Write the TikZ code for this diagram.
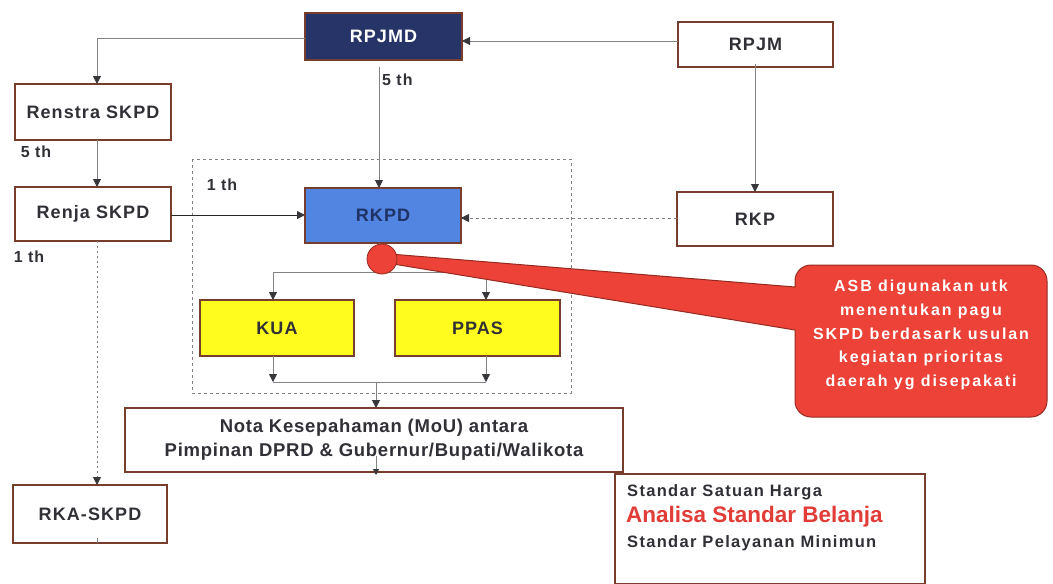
\documentclass[tikz,border=0pt]{standalone}
\usepackage{fontspec}
\setmainfont{Liberation Sans}
\newfontfamily\boxfont[LetterSpace=6]{Liberation Sans}
\newfontfamily\notafont[LetterSpace=4]{Liberation Sans}
\newfontfamily\stdfont[LetterSpace=8]{Liberation Sans}
\newfontfamily\callfont[LetterSpace=12]{Liberation Sans}
\usetikzlibrary{arrows.meta}
\definecolor{boxborder}{RGB}{120,62,45}
\definecolor{navyfill}{RGB}{38,52,104}
\definecolor{rkpdblue}{RGB}{82,132,226}
\definecolor{rkpdtext}{RGB}{30,50,100}
\definecolor{kuayellow}{RGB}{255,252,30}
\definecolor{callred}{RGB}{236,66,56}
\definecolor{callborder}{RGB}{150,42,32}
\definecolor{linegray}{RGB}{130,130,130}
\definecolor{tipgray}{RGB}{55,55,60}
\definecolor{textdark}{RGB}{48,48,54}
\definecolor{asbred}{RGB}{225,60,55}
\begin{document}
\begin{tikzpicture}[x=1pt,y=-1pt,
  box/.style={draw=boxborder, line width=1.4pt, fill=white, rectangle, outer sep=0pt,
    text=textdark, font=\boxfont\bfseries\fontsize{18}{21}\selectfont},
  conn/.style={draw=linegray, line width=0.8pt},
  arr/.style={-{Triangle[length=8pt,width=8pt,color=tipgray]}},
  dashconn/.style={draw=linegray, line width=0.8pt, dash pattern=on 3pt off 3pt},
  lbl/.style={text=textdark, font=\boxfont\bfseries\fontsize{16}{19}\selectfont, inner sep=0pt}
]
\useasboundingbox (0,0) rectangle (1053,584);
\fill[white] (0,0) rectangle (1053,584);

% dashed frame
\draw[linegray, line width=0.8pt, dash pattern=on 3pt off 3pt] (192,159) rectangle (571,393);

% nodes
\node[box, fill=navyfill, text=white, minimum width=157pt, minimum height=47pt] (rpjmd) at (383.5,36.5) {RPJMD};
\node[box, minimum width=155pt, minimum height=45pt] (rpjm) at (755.5,44.5) {RPJM};
\node[box, minimum width=156pt, minimum height=56pt] (renstra) at (93,112) {Renstra SKPD};
\node[box, minimum width=156pt, minimum height=54pt] (renja) at (93,214) {Renja SKPD};
\node[box, fill=rkpdblue, text=rkpdtext, minimum width=156pt, minimum height=55pt] (rkpd) at (383,215.5) {RKPD};
\node[box, minimum width=156pt, minimum height=54pt] (rkp) at (755,219) {RKP};
\node[box, fill=kuayellow, minimum width=154pt, minimum height=56pt] (kua) at (277,328) {KUA};
\node[box, fill=kuayellow, minimum width=165pt, minimum height=56pt] (ppas) at (477.5,328) {PPAS};
\node[box, minimum width=498pt, minimum height=64pt, align=center,
  font=\notafont\bfseries\fontsize{18.5}{24}\selectfont] (nota) at (374,440)
  {Nota Kesepahaman (MoU) antara\\Pimpinan DPRD \& Gubernur/Bupati/Walikota};
\node[box, minimum width=154pt, minimum height=58pt] (rka) at (90,514) {RKA-SKPD};
\node[box, minimum width=310pt, minimum height=110pt] (std) at (770,529) {};
\node[anchor=west, inner sep=0pt, text=textdark, font=\stdfont\bfseries\fontsize{16.5}{19}\selectfont] (ssh) at (627,492) {Standar Satuan Harga};
\node[anchor=west, inner sep=0pt, text=asbred, font=\bfseries\fontsize{22.5}{26}\selectfont] (asb) at (626,517) {Analisa Standar Belanja};
\node[anchor=west, inner sep=0pt, text=textdark, font=\stdfont\bfseries\fontsize{16.5}{19}\selectfont] (spm) at (627,543) {Standar Pelayanan Minimun};

% labels
\node[lbl, anchor=west] (l5a) at (382,80) {5 th};
\node[lbl] (l5b) at (36,152) {5 th};
\node[lbl] (l1a) at (222,185) {1 th};
\node[lbl] (l1b) at (29,257) {1 th};

% coordinates for connectors
\coordinate (rpjmdtop) at (379,67);
\coordinate (rpjmbot) at (755,64);
\coordinate (split) at (379,272);
\coordinate (kuain) at (273,272);
\coordinate (ppasin) at (486,272);
\coordinate (kuaout) at (273,382);
\coordinate (ppasout) at (486,382);
\coordinate (merge) at (376,382);
\coordinate (notamid) at (376,456);
\coordinate (notaout) at (376,475);
\coordinate (rkatick) at (97,538);

% connectors
\draw[conn, arr] (rpjmd.west |- 0,38) -| (renstra.north -| 97,0);
\draw[conn, arr] (rpjm.west |- 0,41) -- (rpjmd.east |- 0,41);
\draw[conn, arr] (rpjmdtop) -- (rkpd.north -| rpjmdtop);
\draw[conn, arr] (rpjmbot) -- (rkp.north);
\draw[conn, arr] (renstra.south -| 97,0) -- (renja.north -| 97,0);
\draw[draw=black!85, line width=1pt, arr] (renja.east |- 0,215) -- (rkpd.west |- 0,215);
\draw[dashconn, arr] (rkp.west |- 0,218) -- (rkpd.east |- 0,218);
\draw[draw=linegray, line width=0.8pt, dash pattern=on 2pt off 3pt, arr] (renja.south -| 97,0) -- (rka.north -| 97,0);
\draw[conn] (rkpd.south -| split) -- (split);
\draw[conn] (kuain) -- (ppasin);
\draw[conn, arr] (kuain) -- (kua.north -| kuain);
\draw[conn, arr] (ppasin) -- (ppas.north -| ppasin);
\draw[conn, arr] (kua.south -| kuaout) -- (kuaout);
\draw[conn, arr] (ppas.south -| ppasout) -- (ppasout);
\draw[conn] (kuaout) -- (ppasout);
\draw[conn, arr] (merge) -- (nota.north -| merge);
\draw[conn, -{Triangle[length=6pt,width=6pt,color=tipgray]}] (notamid) -- (notaout);
\draw[conn] (rkatick) -- (rka.south -| rkatick);

% callout
\path[fill=callred, draw=callborder, line width=1pt]
  (795,287) -- (390,254) -- (393,264) -- (795,330)
  [rounded corners=16pt] -- (795,417) -- (1047,417) -- (1047,265) -- (795,265) [sharp corners] -- cycle;
\fill[callred] (796,288) rectangle (800,329);
\fill[callred, draw=callborder, line width=0.8pt] (382,259) circle (15);
\node[align=center, text=white, font=\callfont\bfseries\fontsize{16}{23.8}\selectfont] (asbnote) at (921,335)
  {ASB digunakan utk\\menentukan pagu\\SKPD berdasark usulan\\kegiatan prioritas\\daerah yg disepakati};
\end{tikzpicture}
\end{document}
